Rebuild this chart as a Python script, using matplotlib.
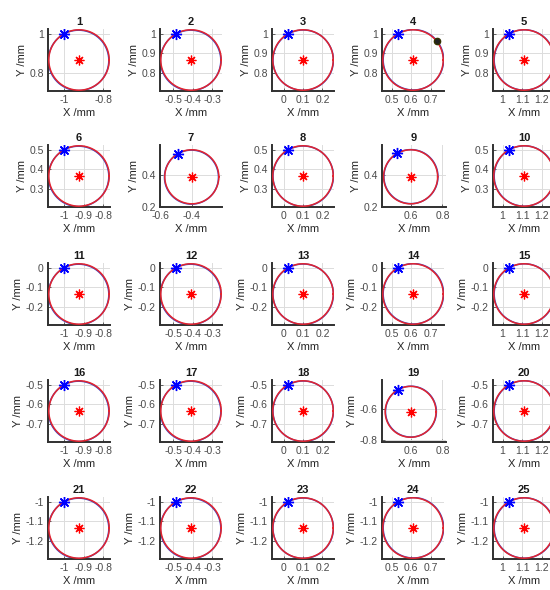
import numpy as np
import matplotlib
matplotlib.use("Agg")
import matplotlib.pyplot as plt

plt.rcParams['font.family'] = ['Liberation Sans', 'DejaVu Sans']

# subplot numbers and nominal circle (centre, radius) in mm
plot_ids = list(range(1, 26))
center_x = [-0.925, -0.41, 0.10, 0.61, 1.11,
            -0.925, -0.40, 0.10, 0.60, 1.11,
            -0.925, -0.41, 0.10, 0.61, 1.11,
            -0.925, -0.41, 0.10, 0.60, 1.11,
            -0.925, -0.41, 0.10, 0.61, 1.11]
center_y = [0.865, 0.865, 0.865, 0.865, 0.865,
            0.365, 0.39, 0.365, 0.39, 0.365,
            -0.135, -0.135, -0.135, -0.135, -0.135,
            -0.635, -0.635, -0.635, -0.62, -0.635,
            -1.135, -1.135, -1.135, -1.135, -1.135]
radius = [0.155, 0.155, 0.155, 0.155, 0.155,
          0.155, 0.17, 0.155, 0.17, 0.155,
          0.155, 0.155, 0.155, 0.155, 0.155,
          0.155, 0.155, 0.155, 0.16, 0.155,
          0.155, 0.155, 0.155, 0.155, 0.155]

# measured path: small offset of its centre from the nominal one
meas_dx = [-0.002, -0.002, 0.001, 0.002, 0.002]
meas_dy = [-0.002, -0.002, -0.001, 0.001, 0.0]
start_angle = 120  # deg, where the measured path starts (blue star)
dot_plot = 4
dot_angle = 38

x_ticks = [[-1, -0.8], [-0.5, -0.4, -0.3], [0, 0.1, 0.2], [0.5, 0.6, 0.7], [1, 1.1, 1.2],
           [-1, -0.9, -0.8], [-0.6, -0.4], [0, 0.1, 0.2], [0.6, 0.8], [1, 1.1, 1.2],
           [-1, -0.9, -0.8], [-0.5, -0.4, -0.3], [0, 0.1, 0.2], [0.5, 0.6, 0.7], [1, 1.1, 1.2],
           [-1, -0.9, -0.8], [-0.5, -0.4, -0.3], [0, 0.1, 0.2], [0.6, 0.8], [1, 1.1, 1.2],
           [-1, -0.9, -0.8], [-0.5, -0.4, -0.3], [0, 0.1, 0.2], [0.5, 0.6, 0.7], [1, 1.1, 1.2]]
y_ticks = [[0.8, 1], [0.8, 0.9, 1], [0.8, 0.9, 1], [0.8, 0.9, 1], [0.8, 0.9, 1],
           [0.3, 0.4, 0.5], [0.2, 0.4], [0.3, 0.4, 0.5], [0.2, 0.4], [0.3, 0.4, 0.5],
           [-0.2, -0.1, 0], [-0.2, -0.1, 0], [-0.2, -0.1, 0], [-0.2, -0.1, 0], [-0.2, -0.1, 0],
           [-0.7, -0.6, -0.5], [-0.7, -0.6, -0.5], [-0.7, -0.6, -0.5], [-0.8, -0.6], [-0.7, -0.6, -0.5],
           [-1.2, -1.1, -1], [-1.2, -1.1, -1], [-1.2, -1.1, -1], [-1.2, -1.1, -1], [-1.2, -1.1, -1]]
# plots that use fixed (wider) limits instead of tight ones
fixed_xlim = {7: (-0.6, -0.21), 9: (0.42, 0.82), 19: (0.42, 0.82)}
fixed_ylim = {7: (0.2, 0.59), 9: (0.2, 0.59), 19: (-0.81, -0.42)}

W, H = 550, 590
col_left = [48, 160, 272, 382, 493]
row_top = [29, 145, 263, 380, 497]
ax_w, ax_h = 64, 62

fig = plt.figure(figsize=(W / 100, H / 100), dpi=100)
fig.patch.set_facecolor('white')

t = np.linspace(0, 2 * np.pi, 361)
tick_col = '#4a4a4a'

for i, pid in enumerate(plot_ids):
    row, col = divmod(i, 5)
    ax = fig.add_axes([col_left[col] / W, 1 - (row_top[row] + ax_h) / H, ax_w / W, ax_h / H])
    cx, cy, r = center_x[i], center_y[i], radius[i]

    # measured path (blue) under the nominal circle (red)
    mx, my = cx + meas_dx[col], cy + meas_dy[col]
    a0 = np.deg2rad(start_angle)
    ax.plot(mx + r * np.cos(t + a0), my + r * np.sin(t + a0), color='#3848c8', lw=1.1, zorder=2)
    ax.plot(cx + r * np.cos(t), cy + r * np.sin(t), color='#e3242e', lw=1.1, zorder=3)
    ax.plot(cx, cy, marker=(8, 2, 0), color='red', ms=7, mew=0.9, zorder=4)
    ax.plot(mx + r * np.cos(a0), my + r * np.sin(a0), marker=(8, 2, 0), color='blue',
            ms=8, mew=1.0, zorder=5)
    if pid == dot_plot:
        a1 = np.deg2rad(dot_angle)
        ax.plot(cx + r * np.cos(a1), cy + r * np.sin(a1), 'o', color='#222222',
                ms=4.5, mec='#333300', zorder=6)

    if pid in fixed_xlim:
        ax.set_xlim(*fixed_xlim[pid])
        ax.set_ylim(*fixed_ylim[pid])
    else:
        ax.set_xlim(cx - r - 0.004, cx + r + 0.004)
        ax.set_ylim(cy - r - 0.004, cy + r + 0.004)
    ax.set_aspect('equal', adjustable='box', anchor='SW')

    ax.set_xticks(x_ticks[i])
    ax.set_yticks(y_ticks[i])
    ax.set_xticklabels([f'{v:g}' for v in x_ticks[i]])
    ax.set_yticklabels([f'{v:g}' for v in y_ticks[i]])
    ax.tick_params(direction='in', length=2, width=0.6, colors=tick_col,
                   labelsize=7.5, pad=3)
    ax.grid(True, color='#dcdcdc', lw=0.7)
    ax.set_axisbelow(True)
    for s in ['top', 'right']:
        ax.spines[s].set_visible(False)
    for s in ['left', 'bottom']:
        ax.spines[s].set_color('#303030')
        ax.spines[s].set_linewidth(1.4)

    ax.set_title(str(pid), fontsize=8, fontweight='bold', color='#1a1a1a', pad=3)
    ax.set_xlabel('X /mm', fontsize=8, color='#262626', labelpad=2)
    ax.set_ylabel('Y /mm', fontsize=8, color='#262626', labelpad=2)

fig.savefig('out.png', dpi=100, facecolor='white')
